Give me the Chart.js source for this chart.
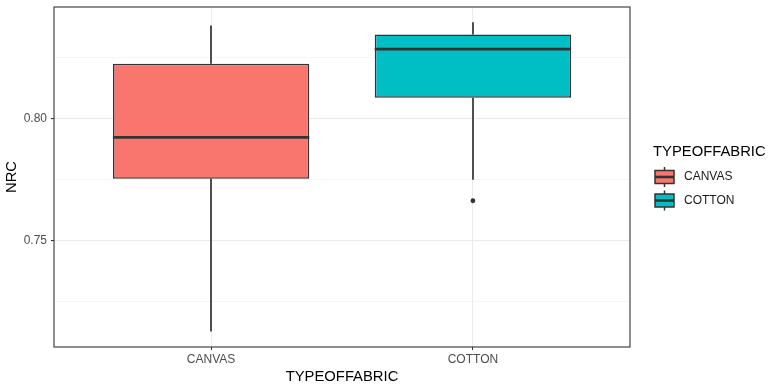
<!DOCTYPE html>
<html>
<head>
<meta charset="utf-8">
<script src="https://cdn.jsdelivr.net/npm/chart.js@4.4.0/dist/chart.umd.min.js"></script>
<style>
    html, body { margin: 0; padding: 0; background: #ffffff; }
    canvas { display: block; }
</style>
</head>
<body>
<canvas id="nrcBoxChart" width="777" height="386"></canvas>
<script>
// Boxplot summary
const categories = ['CANVAS', 'COTTON'];
const fillColors = ['#F8766D', '#00BFC4'];
const whiskerLow = [0.7126, 0.7749];
const q1Values = [0.7753, 0.8086];
const medianValues = [0.7923, 0.8286];
const q3Values = [0.8226, 0.8346];
const whiskerHigh = [0.8383, 0.8396];
const outlierCategory = ['COTTON'];
const outlierValues = [0.7663];

// Axis ticks
const majorTicks = [0.75, 0.80];
const minorTicks = [0.725, 0.775, 0.825];

const INK = '#333333';
const FONT = "'Liberation Sans', Arial, sans-serif";

Chart.defaults.font.family = FONT;

/**
 * Whiskers, medians, panel border and the boxplot legend
 */
const boxPlotPlugin = {
    id: 'boxPlot',
    beforeDatasetsDraw(chart) {
        const ctx = chart.ctx;
        const y = chart.scales.y;
        const meta = chart.getDatasetMeta(0);
        ctx.save();
        ctx.strokeStyle = INK;
        ctx.lineWidth = 1.7;
        meta.data.forEach((bar, i) => {
            const x = Math.round(bar.x);
            ctx.beginPath();
            ctx.moveTo(x, y.getPixelForValue(whiskerHigh[i]));
            ctx.lineTo(x, y.getPixelForValue(q3Values[i]));
            ctx.moveTo(x, y.getPixelForValue(q1Values[i]));
            ctx.lineTo(x, y.getPixelForValue(whiskerLow[i]));
            ctx.stroke();
        });
        ctx.restore();
    },
    afterDatasetsDraw(chart) {
        const ctx = chart.ctx;
        const y = chart.scales.y;
        const meta = chart.getDatasetMeta(0);
        const area = chart.chartArea;
        ctx.save();
        ctx.strokeStyle = INK;
        ctx.lineWidth = 2.8;
        meta.data.forEach((bar, i) => {
            const py = y.getPixelForValue(medianValues[i]);
            ctx.beginPath();
            ctx.moveTo(bar.x - bar.width / 2, py);
            ctx.lineTo(bar.x + bar.width / 2, py);
            ctx.stroke();
        });
        // panel border
        ctx.lineWidth = 1.1;
        ctx.strokeRect(area.left, area.top, area.right - area.left, area.bottom - area.top);
        ctx.restore();
    },
    afterDraw(chart) {
        const ctx = chart.ctx;
        ctx.save();
        ctx.fillStyle = '#000000';
        ctx.font = '14.8px ' + FONT;
        ctx.textBaseline = 'middle';
        ctx.textAlign = 'left';
        ctx.fillText('TYPEOFFABRIC', 653, 151.5);

        categories.forEach((name, i) => {
            const cy = 177 + i * 23.5;
            const x0 = 655, x1 = 674, cx = (x0 + x1) / 2;
            ctx.strokeStyle = INK;
            ctx.lineWidth = 1.5;
            ctx.beginPath();
            ctx.moveTo(cx, cy - 10);
            ctx.lineTo(cx, cy + 10);
            ctx.stroke();
            ctx.fillStyle = fillColors[i];
            ctx.fillRect(x0, cy - 6.5, x1 - x0, 13);
            ctx.strokeRect(x0, cy - 6.5, x1 - x0, 13);
            ctx.lineWidth = 2.6;
            ctx.beginPath();
            ctx.moveTo(x0, cy);
            ctx.lineTo(x1, cy);
            ctx.stroke();

            ctx.fillStyle = '#1a1a1a';
            ctx.font = '12px ' + FONT;
            ctx.fillText(name, 684, cy);
        });
        ctx.restore();
    }
};

const ctx = document.getElementById('nrcBoxChart');

new Chart(ctx, {
    type: 'bar',
    data: {
        datasets: [{
            label: 'box',
            data: categories.map((c, i) => ({ x: i + 1, y: [q1Values[i], q3Values[i]] })),
            backgroundColor: fillColors,
            borderColor: INK,
            borderWidth: 1.6,
            borderSkipped: false,
            categoryPercentage: 1,
            barPercentage: 0.75,
            grouped: false
        }, {
            type: 'scatter',
            label: 'outliers',
            data: outlierValues.map((v, i) => ({ x: categories.indexOf(outlierCategory[i]) + 1, y: v })),
            backgroundColor: INK,
            borderWidth: 0,
            pointRadius: 2.4
        }]
    },
    options: {
        responsive: false,
        animation: false,
        devicePixelRatio: 1,
        layout: {
            padding: { top: 7, right: 147, left: 0, bottom: 0 }
        },
        plugins: {
            legend: { display: false },
            tooltip: { enabled: false }
        },
        scales: {
            x: {
                type: 'linear',
                min: 0.4,
                max: 2.6,
                offset: false,
                afterBuildTicks: scale => {
                    scale.ticks = categories.map((c, i) => ({ value: i + 1 }));
                },
                afterFit: scale => {
                    scale.height = 39;
                    scale.paddingLeft = 0;
                    scale.paddingRight = 0;
                },
                grid: {
                    offset: false,
                    color: '#ebebeb',
                    lineWidth: 1,
                    tickColor: INK,
                    tickLength: 3
                },
                border: { display: false },
                ticks: {
                    color: '#4d4d4d',
                    font: { size: 12 },
                    padding: 2,
                    maxRotation: 0,
                    autoSkip: false,
                    callback: value => categories[value - 1] || ''
                },
                title: {
                    display: true,
                    text: 'TYPEOFFABRIC',
                    color: '#000000',
                    font: { size: 14.8 },
                    padding: { top: 0, bottom: 0 }
                }
            },
            y: {
                type: 'linear',
                min: 0.7062,
                max: 0.8459,
                afterBuildTicks: scale => {
                    scale.ticks = minorTicks.concat(majorTicks)
                        .sort((a, b) => a - b)
                        .map(v => ({ value: v }));
                },
                afterFit: scale => {
                    scale.width = 54;
                    scale.paddingTop = 0;
                    scale.paddingBottom = 0;
                },
                grid: {
                    color: c => majorTicks.includes(c.tick.value) ? '#ebebeb' : '#f4f4f4',
                    lineWidth: c => majorTicks.includes(c.tick.value) ? 1.1 : 0.8,
                    tickColor: c => majorTicks.includes(c.tick.value) ? INK : 'rgba(0,0,0,0)',
                    tickLength: 3
                },
                border: { display: false },
                ticks: {
                    color: '#4d4d4d',
                    font: { size: 12 },
                    padding: 4,
                    autoSkip: false,
                    callback: value => majorTicks.includes(value) ? value.toFixed(2) : ''
                },
                title: {
                    display: true,
                    text: 'NRC',
                    color: '#000000',
                    font: { size: 14.8 },
                    padding: { top: 3, bottom: 0 }
                }
            }
        }
    },
    plugins: [boxPlotPlugin]
});
</script>
</body>
</html>
